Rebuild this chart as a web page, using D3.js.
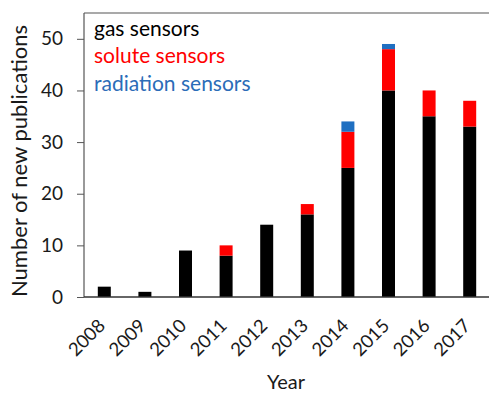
<!DOCTYPE html>
<html>
<head>
<meta charset="utf-8">
<script src="https://cdn.jsdelivr.net/npm/d3@7"></script>
<style>
  html, body { margin: 0; padding: 0; background: #fff; }
  svg { display: block; font-family: Lato, "Open Sans", sans-serif; }
</style>
</head>
<body>
<svg id="chart" width="489" height="393"></svg>
<script>
// Publications per year, split by sensor type
const years = ["2008","2009","2010","2011","2012","2013","2014","2015","2016","2017"];
const gasSensors       = [2, 1, 9, 8, 14, 16, 25, 40, 35, 33];
const soluteSensors    = [0, 0, 0, 2,  0,  2,  7,  8,  5,  5];
const radiationSensors = [0, 0, 0, 0,  0,  0,  2,  1,  0,  0];
const yTicks = [0, 10, 20, 30, 40, 50];

const seriesNames  = ["gas sensors", "solute sensors", "radiation sensors"];
const seriesColors = ["#000000", "#ff0000", "#1f6fc1"];

const rows = years.map((y, i) => ({
  year: y,
  "gas sensors": gasSensors[i],
  "solute sensors": soluteSensors[i],
  "radiation sensors": radiationSensors[i]
}));

const svg = d3.select("#chart");
const margin = { left: 84, right: -1, top: 13, bottom: 96 };
const W = 489, H = 393;
const x0 = margin.left, x1 = W - margin.right;
const yTop = margin.top, yBot = H - margin.bottom;
const textColor = "#1a1a1a";

const x = d3.scaleBand().domain(years).range([x0, x1]).paddingInner(0.68).paddingOuter(0.34);
const y = d3.scaleLinear().domain([0, 55]).range([yBot, yTop]);
const color = d3.scaleOrdinal().domain(seriesNames).range(seriesColors);

const stacked = d3.stack().keys(seriesNames)(rows);

// Bars
svg.append("g").selectAll("g")
  .data(stacked).join("g")
  .attr("fill", d => color(d.key))
  .selectAll("rect")
  .data(d => d.filter(p => p[1] > p[0]))
  .join("rect")
  .attr("x", d => x(d.data.year))
  .attr("width", x.bandwidth())
  .attr("y", d => y(d[1]))
  .attr("height", d => y(d[0]) - y(d[1]));

// Frame: top border
svg.append("line")
  .attr("x1", x0).attr("x2", W).attr("y1", yTop).attr("y2", yTop)
  .attr("stroke", "#555").attr("stroke-width", 1.2);

// Y axis
const yAxis = svg.append("g")
  .attr("transform", `translate(${x0},0)`)
  .call(d3.axisLeft(y).tickValues(yTicks).tickSize(7).tickPadding(14));
yAxis.select(".domain").attr("d", `M0,${yTop}V${yBot}`).attr("stroke", "#555").attr("stroke-width", 1.2);
yAxis.selectAll(".tick line").attr("stroke", "#555");
yAxis.selectAll(".tick text")
  .attr("font-size", 19).attr("fill", textColor)
  .attr("font-family", "Lato, sans-serif");

// X axis; its year labels are drawn diagonally below
const xAxis = svg.append("g")
  .attr("transform", `translate(0,${yBot})`)
  .call(d3.axisBottom(x).tickSize(0).tickFormat(""));
xAxis.select(".domain").attr("d", `M${x0},0H${W}`).attr("stroke", "#333").attr("stroke-width", 1.3);

svg.append("g").selectAll("g")
  .data(years).join("g")
  .attr("transform", d => `translate(${x(d) + x.bandwidth() / 2 + 2},${yBot + 30}) rotate(-45)`)
  .append("text")
  .attr("text-anchor", "end")
  .attr("font-size", 18.5).attr("fill", textColor)
  .text(d => d);

// Axis titles
svg.append("text")
  .attr("x", 286).attr("y", 389)
  .attr("text-anchor", "middle")
  .attr("font-size", 20).attr("fill", textColor)
  .text("Year");

svg.append("text")
  .attr("transform", `translate(27,161) rotate(-90)`)
  .attr("text-anchor", "middle")
  .attr("font-size", 22).attr("fill", textColor)
  .text("Number of new publications");

// Legend
const legend = svg.append("g");
seriesNames.forEach((name, i) => {
  legend.append("text")
    .attr("x", 94).attr("y", 36 + i * 27.3)
    .attr("font-size", 21)
    .attr("fill", i === 2 ? "#2b6cb8" : color(name))
    .text(name);
});
</script>
</body>
</html>
